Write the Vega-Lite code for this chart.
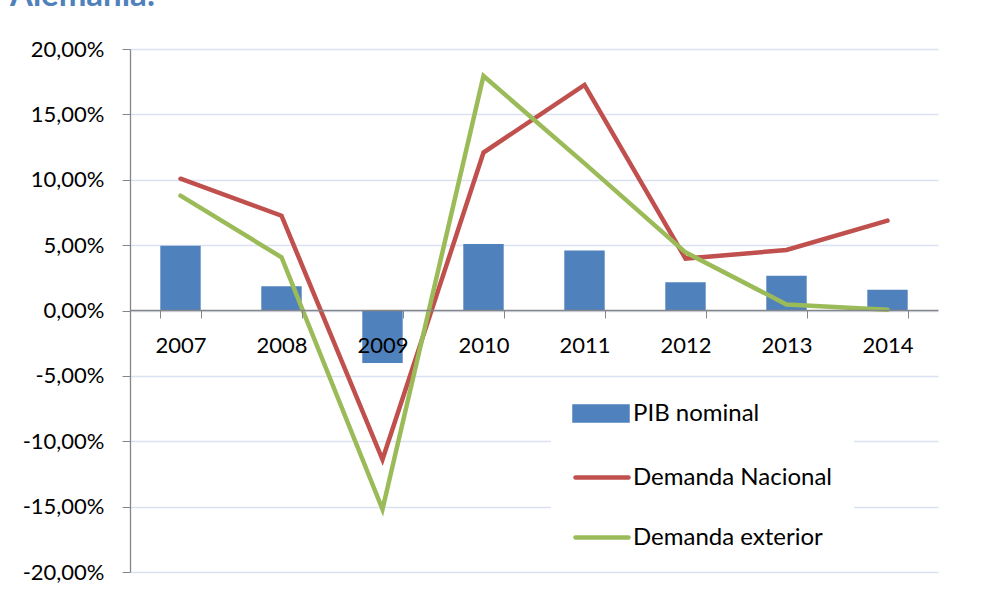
{
  "$schema": "https://vega.github.io/schema/vega-lite/v6.json",
  "autosize": "none",
  "width": 808,
  "height": 523,
  "padding": {"left": 130, "top": 49, "right": 52, "bottom": 30},
  "background": "white",
  "title": {
    "text": "Alemania:",
    "anchor": "start",
    "frame": "group",
    "fontSize": 33,
    "font": "Lato",
    "fontWeight": "bold",
    "color": "#4F81BD",
    "baseline": "bottom",
    "offset": 0,
    "dy": 8,
    "dx": -120
  },
  "config": {
    "view": {"stroke": null},
    "font": "Lato"
  },
  "data": {
    "values": [
      {"year": "2007", "serie": "PIB nominal", "value": 0.0496},
      {"year": "2008", "serie": "PIB nominal", "value": 0.0186},
      {"year": "2009", "serie": "PIB nominal", "value": -0.0402},
      {"year": "2010", "serie": "PIB nominal", "value": 0.0509},
      {"year": "2011", "serie": "PIB nominal", "value": 0.0458},
      {"year": "2012", "serie": "PIB nominal", "value": 0.0216},
      {"year": "2013", "serie": "PIB nominal", "value": 0.0265},
      {"year": "2014", "serie": "PIB nominal", "value": 0.0158},
      {"year": "2007", "serie": "Demanda Nacional", "value": 0.1008},
      {"year": "2008", "serie": "Demanda Nacional", "value": 0.0725},
      {"year": "2009", "serie": "Demanda Nacional", "value": -0.1140},
      {"year": "2010", "serie": "Demanda Nacional", "value": 0.1208},
      {"year": "2011", "serie": "Demanda Nacional", "value": 0.1725},
      {"year": "2012", "serie": "Demanda Nacional", "value": 0.0397},
      {"year": "2013", "serie": "Demanda Nacional", "value": 0.0463},
      {"year": "2014", "serie": "Demanda Nacional", "value": 0.0687},
      {"year": "2007", "serie": "Demanda exterior", "value": 0.0878},
      {"year": "2008", "serie": "Demanda exterior", "value": 0.0407},
      {"year": "2009", "serie": "Demanda exterior", "value": -0.1520},
      {"year": "2010", "serie": "Demanda exterior", "value": 0.1794},
      {"year": "2011", "serie": "Demanda exterior", "value": 0.1125},
      {"year": "2012", "serie": "Demanda exterior", "value": 0.0445},
      {"year": "2013", "serie": "Demanda exterior", "value": 0.0046},
      {"year": "2014", "serie": "Demanda exterior", "value": 0.0005}
    ]
  },
  "encoding": {
    "x": {
      "field": "year",
      "type": "nominal",
      "sort": null,
      "scale": {"paddingInner": 0.6, "paddingOuter": 0.3},
      "axis": {
        "title": null,
        "orient": "bottom",
        "offset": -262,
        "labelAngle": 0,
        "labelFont": "Lato",
        "labelFontSize": 22,
        "labelColor": "#000000",
        "labelPadding": 17,
        "tickBand": "extent",
        "tickSize": 8,
        "tickColor": "#868686",
        "domainColor": "#868686",
        "domainWidth": 1.3,
        "grid": false,
        "zindex": 1
      }
    },
    "y": {
      "field": "value",
      "type": "quantitative",
      "scale": {"domain": [-0.2, 0.2], "nice": false, "zero": false},
      "axis": {
        "title": null,
        "values": [-0.2, -0.15, -0.1, -0.05, 0, 0.05, 0.1, 0.15, 0.2],
        "labelExpr": "replace(replace(format(datum.value, '.2%'), '.', ','), '\u2212', '-')",
        "labelFont": "Lato",
        "labelFontSize": 22,
        "labelColor": "#000000",
        "labelPadding": 18,
        "tickSize": 8,
        "tickColor": "#868686",
        "domainColor": "#868686",
        "domainWidth": 1.3,
        "grid": true,
        "gridColor": "#D9E1F2",
        "gridWidth": 1.3,
        "zindex": 0
      }
    },
    "color": {
      "field": "serie",
      "type": "nominal",
      "scale": {
        "domain": ["PIB nominal", "Demanda Nacional", "Demanda exterior"],
        "range": ["#4F81BD", "#C0504D", "#9BBB59"]
      },
      "legend": {
        "title": null,
        "orient": "none",
        "legendX": 421,
        "legendY": 331,
        "fillColor": "white",
        "padding": 21,
        "labelFont": "Lato",
        "labelFontSize": 24,
        "labelColor": "#000000",
        "labelOffset": 36,
        "labelLimit": 400,
        "symbolSize": 400,
        "rowPadding": 35,
        "encode": {
          "symbols": {
            "update": {
              "shape": {"signal": "datum.value === 'PIB nominal' ? 'M-1,-0.7H4.3V0.7H-1Z' : 'M-0.9,0H4.4'"},
              "fill": {"signal": "datum.value === 'PIB nominal' ? '#4F81BD' : 'transparent'"},
              "stroke": {"signal": "datum.value === 'PIB nominal' ? 'transparent' : (datum.value === 'Demanda Nacional' ? '#C0504D' : '#9BBB59')"},
              "strokeWidth": {"value": 4.5},
              "strokeCap": {"value": "round"},
              "opacity": {"value": 1}
            }
          }
        }
      }
    }
  },
  "layer": [
    {
      "transform": [{"filter": "datum.serie === 'PIB nominal'"}],
      "mark": {"type": "bar"}
    },
    {
      "transform": [{"filter": "datum.serie === 'Demanda Nacional'"}],
      "mark": {"type": "line", "strokeWidth": 4.5, "strokeCap": "round"}
    },
    {
      "transform": [{"filter": "datum.serie === 'Demanda exterior'"}],
      "mark": {"type": "line", "strokeWidth": 4.5, "strokeCap": "round"}
    }
  ]
}
